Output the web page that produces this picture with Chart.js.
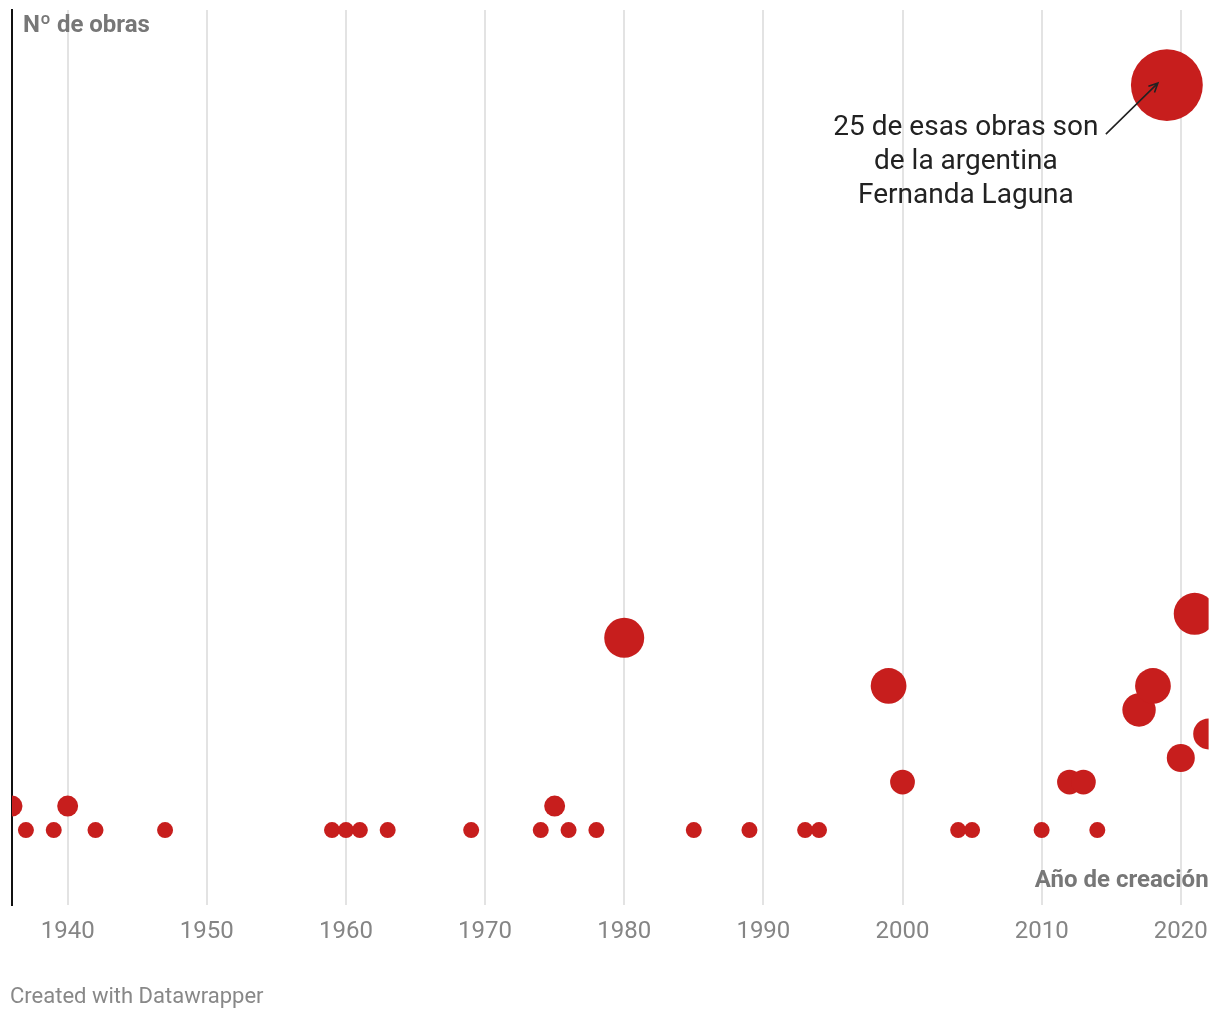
<!DOCTYPE html>
<html lang="es">
<head>
<meta charset="utf-8">
<title>Nº de obras por año de creación</title>
<script src="https://cdn.jsdelivr.net/npm/chart.js@4.4.1/dist/chart.umd.min.js"></script>
<style>
  html, body { margin: 0; padding: 0; background: #fff; }
  #wrap { position: relative; width: 1220px; height: 1020px; }
</style>
</head>
<body>
<div id="wrap"><canvas id="chart"></canvas></div>
<script>
// Data: year of creation and number of works
const years = [1936, 1937, 1939, 1940, 1942, 1947, 1959, 1960, 1961, 1963,
               1969, 1974, 1975, 1976, 1978, 1980, 1985, 1989, 1993, 1994,
               1999, 2000, 2004, 2005, 2010, 2012, 2013, 2014, 2017, 2018,
               2019, 2020, 2021, 2022];
const works = [2, 1, 1, 2, 1, 1, 1, 1, 1, 1,
               1, 1, 2, 1, 1, 9, 1, 1, 1, 1,
               7, 3, 1, 1, 1, 3, 3, 1, 6, 7,
               32, 4, 10, 5];
const tickYears = [1940, 1950, 1960, 1970, 1980, 1990, 2000, 2010, 2020];

const noteYear = 2019;
const noteLines = ['25 de esas obras son', 'de la argentina', 'Fernanda Laguna'];

const RED = '#c71e1d';
const FONT = 'Roboto, "Noto Sans", sans-serif';

// bubble radius grows with the square root of the count
function bubbleRadius(n) {
    return 2 + 6 * Math.sqrt(n);
}

const points = years.map((y, i) => ({ x: y, y: works[i], r: bubbleRadius(works[i]) }));

// Titles, annotation and footer
const labelsPlugin = {
    id: 'labels',
    afterDatasetsDraw(chart) {
        const ctx = chart.ctx;
        const area = chart.chartArea;
        const xs = chart.scales.x;
        const ys = chart.scales.y;
        ctx.save();

        ctx.fillStyle = '#777777';
        ctx.font = 'bold 24px ' + FONT;
        ctx.textBaseline = 'alphabetic';
        ctx.textAlign = 'left';
        ctx.fillText('Nº de obras', area.left + 11, 32);
        ctx.textAlign = 'right';
        ctx.fillText('Año de creación', area.right, 887);

        // annotation
        const idx = years.indexOf(noteYear);
        const px = xs.getPixelForValue(noteYear);
        const py = ys.getPixelForValue(works[idx]);
        ctx.fillStyle = '#222222';
        ctx.font = '28px ' + FONT;
        ctx.textAlign = 'center';
        noteLines.forEach((line, i) => {
            ctx.fillText(line, px - 201, py + 50 + i * 34);
        });

        // arrow
        const x0 = px - 61, y0 = py + 49;
        const x1 = px - 9, y1 = py - 2;
        ctx.strokeStyle = '#222222';
        ctx.lineWidth = 1.6;
        ctx.beginPath();
        ctx.moveTo(x0, y0);
        ctx.lineTo(x1, y1);
        const ang = Math.atan2(y1 - y0, x1 - x0);
        const head = 10;
        ctx.moveTo(x1 - head * Math.cos(ang - 0.45), y1 - head * Math.sin(ang - 0.45));
        ctx.lineTo(x1, y1);
        ctx.lineTo(x1 - head * Math.cos(ang + 0.45), y1 - head * Math.sin(ang + 0.45));
        ctx.stroke();

        // footer
        ctx.fillStyle = '#888888';
        ctx.font = '22px ' + FONT;
        ctx.textAlign = 'left';
        ctx.fillText('Created with Datawrapper', 10, 1003);
        ctx.restore();
    }
};

const canvas = document.getElementById('chart');
canvas.width = 1220;
canvas.height = 1020;

new Chart(canvas.getContext('2d'), {
    type: 'bubble',
    data: {
        datasets: [{
            data: points,
            backgroundColor: RED,
            borderWidth: 0,
            hoverBorderWidth: 0,
            clip: 0
        }]
    },
    options: {
        responsive: false,
        animation: false,
        devicePixelRatio: 1,
        layout: {
            autoPadding: false,
            padding: { left: 12, right: 10, top: 10, bottom: 62 }
        },
        plugins: {
            legend: { display: false },
            tooltip: { enabled: false }
        },
        scales: {
            x: {
                type: 'linear',
                min: 1936,
                max: 2022,
                afterBuildTicks: axis => {
                    axis.ticks = tickYears.map(v => ({ value: v }));
                },
                grid: {
                    color: '#e3e3e3',
                    lineWidth: 2,
                    drawTicks: false
                },
                border: { display: false },
                ticks: {
                    color: '#858585',
                    padding: 12,
                    maxRotation: 0,
                    font: { family: FONT, size: 24 },
                    callback: v => String(v)
                }
            },
            y: {
                type: 'linear',
                min: -2.125,
                max: 35.125,
                grid: { display: false, drawTicks: false },
                ticks: { display: false },
                border: { display: true, color: '#111111', width: 2 }
            }
        }
    },
    plugins: [labelsPlugin]
});
</script>
</body>
</html>
